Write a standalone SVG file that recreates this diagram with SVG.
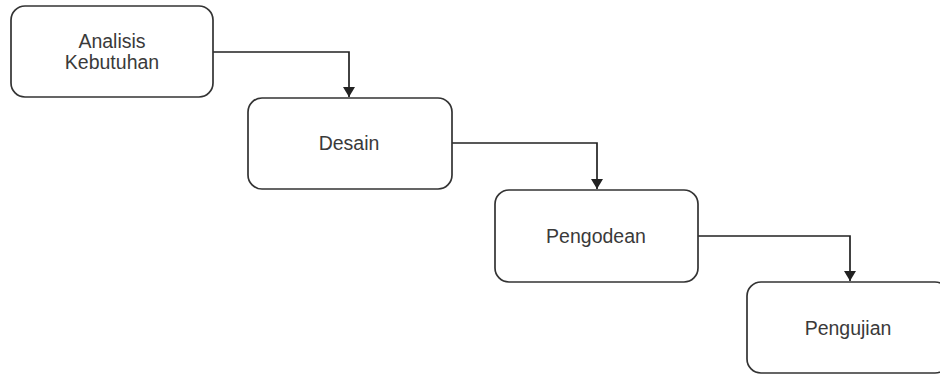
<svg xmlns="http://www.w3.org/2000/svg" width="940" height="374" viewBox="0 0 940 374">
<style>
.box{fill:#ffffff;stroke:#333333;stroke-width:1.7}
.lbl{font-family:"Liberation Sans",Arial,sans-serif;font-size:19.5px;fill:#3a3a3a;text-anchor:middle}
.edge{fill:none;stroke:#222222;stroke-width:1.7}
</style>
<defs>
<marker id="arr" viewBox="0 0 10 12" refX="10" refY="6" markerWidth="10" markerHeight="12" markerUnits="userSpaceOnUse" orient="auto">
<path d="M0,0 L10,6 L0,12 Z" fill="#222222"/>
</marker>
</defs>
<rect width="940" height="374" fill="#ffffff"/>
<g id="connectors">
<path class="edge" d="M213,52 H349 V97" marker-end="url(#arr)"/>
<path class="edge" d="M452,143 H597 V189" marker-end="url(#arr)"/>
<path class="edge" d="M698,236 H850 V281" marker-end="url(#arr)"/>
</g>
<g id="analisis">
<rect class="box" x="11" y="6" width="202" height="91" rx="14"/>
<text class="lbl" x="112" y="47.5">Analisis</text>
<text class="lbl" x="112" y="69">Kebutuhan</text>
</g>
<g id="desain">
<rect class="box" x="248" y="98" width="204" height="91" rx="14"/>
<text class="lbl" x="349" y="149.5">Desain</text>
</g>
<g id="pengodean">
<rect class="box" x="495" y="190" width="203" height="92" rx="14"/>
<text class="lbl" x="596" y="243">Pengodean</text>
</g>
<g id="pengujian">
<rect class="box" x="747" y="282" width="202" height="91" rx="14"/>
<text class="lbl" x="848" y="335">Pengujian</text>
</g>
</svg>
